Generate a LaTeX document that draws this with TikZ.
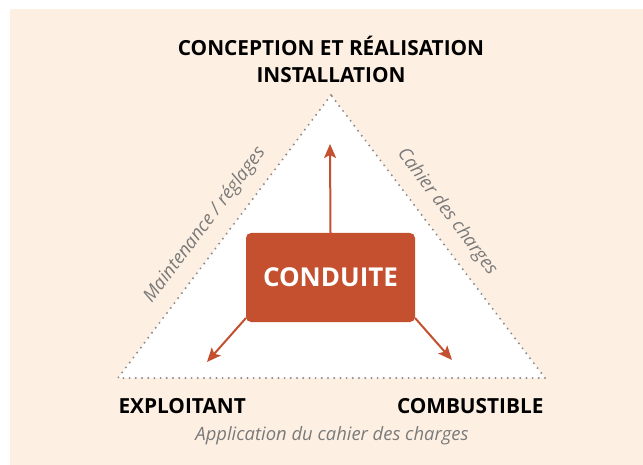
\documentclass[tikz,border=0pt]{standalone}
\usepackage{fontspec}
\setmainfont{Open Sans}
\usetikzlibrary{arrows.meta}
\definecolor{fond}{HTML}{FDF0E3}
\definecolor{brique}{HTML}{C4502F}
\definecolor{pointille}{HTML}{8C8C8C}
\definecolor{legende}{HTML}{7A7A7A}
\tikzset{
  sommet/.style={font=\fontsize{20.8}{27}\selectfont\bfseries, align=center, text=black},
  pole/.style={font=\fontsize{20.8}{24}\selectfont\bfseries, text=black},
  cote/.style={font=\fontsize{18.4}{20}\selectfont\itshape, text=legende},
  fleche/.style={draw=brique, line width=2pt, -{Stealth[length=14pt,width=12pt,inset=3pt]}},
}
\begin{document}
\begin{tikzpicture}[x=1pt, y=-1pt, line join=round, line cap=round]
\useasboundingbox (0,0) rectangle (643,465);
\fill[fond] (10,9) rectangle (643,465);
\path
  (331,95) coordinate (S)
  (118,378) coordinate (G)
  (545,378) coordinate (D)
  (330,144) coordinate (haut)
  (207,362) coordinate (gauche)
  (452,360) coordinate (droite)
  ;
\fill[white] (S)--(G)--(D)--cycle;
\draw[pointille, line width=2.2pt, dash pattern=on 0pt off 6.2pt] (S)--(G)--(D)--cycle;
\node[fill=brique, rounded corners=5pt, minimum width=169pt, minimum height=89pt,
  text=white, font=\fontsize{26}{28}\selectfont\bfseries] (conduite) at (330.5,277.5) {CONDUITE};
\draw[fleche] (conduite.north) -- (haut);
\draw[fleche] ([yshift=4pt]conduite.south west) -- (gauche);
\draw[fleche] ([yshift=4pt]conduite.south east) -- (droite);
\node[sommet] (conception) at (331,59) {CONCEPTION ET RÉALISATION\\INSTALLATION};
\node[pole, anchor=west] (exploitant) at (115,406) {EXPLOITANT};
\node[pole, anchor=east] (combustible) at (547,406) {COMBUSTIBLE};
\node[cote] (application) at (332,436) {Application du cahier des charges};
\node[cote, rotate=53] (maintenance) at (205,225) {Maintenance / réglages};
\node[cote, rotate=-53] (cahier) at (447,212) {Cahier des charges};
\end{tikzpicture}
\end{document}
